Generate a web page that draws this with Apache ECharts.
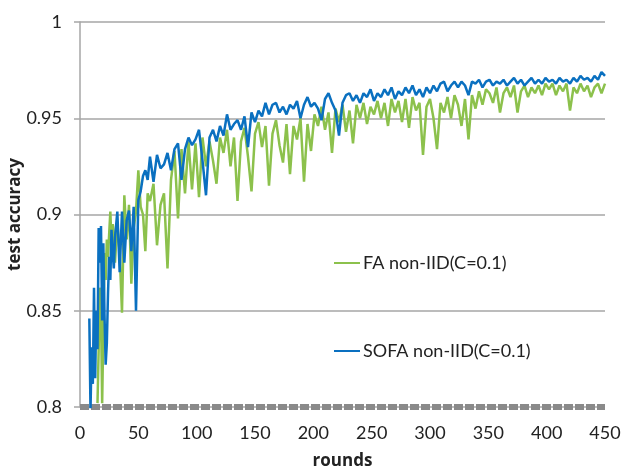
<!DOCTYPE html>
<html>
<head>
<meta charset="utf-8">
<script src="https://cdn.jsdelivr.net/npm/echarts@6/dist/echarts.min.js"></script>
<style>
  html, body { margin: 0; padding: 0; background: #fff; }
  #chart { width: 625px; height: 468px; }
</style>
</head>
<body>
<div id="chart"></div>
<script>
// rounds
var rounds = [
	8, 9, 10, 11, 12, 13, 14, 15, 16, 17, 18, 19, 20, 21, 22, 23, 24, 25, 26, 27, 28, 29, 30,
	32, 34, 36, 38, 40, 42, 44, 46, 48, 50, 52, 54, 56, 58, 60,
	63, 66, 69, 72, 75, 78, 81, 84, 87, 90,
	93, 96, 99, 102, 105, 108, 111, 114, 117, 120,
	123, 126, 129, 132, 135, 138, 141, 144, 147, 150,
	153, 156, 159, 162, 165, 168, 171, 174, 177, 180,
	183, 186, 189, 192, 195, 198, 201, 204, 207, 210,
	213, 216, 219, 222, 225, 228, 231, 234, 237, 240,
	243, 246, 249, 252, 255, 258, 261, 264, 267, 270,
	273, 276, 279, 282, 285, 288, 291, 294, 297, 300,
	303, 306, 309, 312, 315, 318, 321, 324, 327, 330,
	333, 336, 339, 342, 345, 348, 351, 354, 357, 360,
	363, 366, 369, 372, 375, 378, 381, 384, 387, 390,
	393, 396, 399, 402, 405, 408, 411, 414, 417, 420,
	423, 426, 429, 432, 435, 438, 441, 444, 447, 450
];

// FA non-IID(C=0.1)
var faValues = [
	null, null, null, null, null, null, null, 0.802, 0.830, 0.862, 0.849, 0.802, 0.840, 0.880, 0.866, 0.887, 0.878, 0.890, 0.9015, 0.885, 0.895, 0.890, 0.875,
	0.896, 0.880, 0.849, 0.910, 0.887, 0.905, 0.864, 0.893, 0.9015, 0.923, 0.904, 0.900, 0.881, 0.911, 0.907,
	0.916, 0.884, 0.905, 0.911, 0.872, 0.918, 0.933, 0.898, 0.934, 0.911,
	0.938, 0.913, 0.937, 0.909, 0.940, 0.925, 0.938, 0.928, 0.916, 0.940,
	0.932, 0.944, 0.925, 0.940, 0.907, 0.938, 0.945, 0.930, 0.912, 0.942,
	0.948, 0.935, 0.946, 0.915, 0.942, 0.949, 0.936, 0.927, 0.947, 0.921,
	0.946, 0.939, 0.950, 0.917, 0.947, 0.933, 0.952, 0.946, 0.956, 0.944,
	0.953, 0.932, 0.955, 0.948, 0.957, 0.943, 0.954, 0.937, 0.957, 0.950,
	0.958, 0.947, 0.956, 0.952, 0.959, 0.950, 0.958, 0.946, 0.960, 0.953,
	0.959, 0.948, 0.960, 0.945, 0.961, 0.954, 0.958, 0.931, 0.956, 0.960,
	0.950, 0.934, 0.958, 0.953, 0.961, 0.950, 0.962, 0.957, 0.946, 0.960,
	0.939, 0.962, 0.955, 0.964, 0.957, 0.965, 0.963, 0.958, 0.966, 0.953,
	0.963, 0.966, 0.961, 0.967, 0.953, 0.964, 0.967, 0.961, 0.966, 0.963,
	0.967, 0.962, 0.968, 0.965, 0.968, 0.962, 0.967, 0.964, 0.968, 0.954,
	0.966, 0.963, 0.968, 0.964, 0.967, 0.961, 0.966, 0.968, 0.963, 0.968
];

// SOFA non-IID(C=0.1)
var sofaValues = [
	0.846, 0.798, 0.831, 0.812, 0.862, 0.815, 0.850, 0.830, 0.893, 0.875, 0.894, 0.845, 0.885, 0.848, 0.822, 0.833, 0.859, 0.878, 0.866, 0.892, 0.880, 0.872, 0.888,
	0.9015, 0.870, 0.9015, 0.875, 0.897, 0.902, 0.881, 0.904, 0.850, 0.9075, 0.912, 0.920, 0.923, 0.918, 0.930,
	0.917, 0.931, 0.924, 0.926, 0.932, 0.923, 0.934, 0.937, 0.918, 0.934,
	0.940, 0.936, 0.939, 0.944, 0.928, 0.910, 0.940, 0.944, 0.938, 0.946,
	0.941, 0.952, 0.944, 0.947, 0.949, 0.944, 0.951, 0.935, 0.953, 0.948,
	0.954, 0.951, 0.958, 0.952, 0.957, 0.958, 0.953, 0.956, 0.952, 0.957,
	0.955, 0.959, 0.950, 0.957, 0.961, 0.956, 0.958, 0.955, 0.949, 0.960,
	0.963, 0.958, 0.954, 0.941, 0.958, 0.962, 0.963, 0.959, 0.962, 0.958,
	0.963, 0.961, 0.965, 0.959, 0.963, 0.961, 0.965, 0.962, 0.966, 0.960,
	0.964, 0.962, 0.966, 0.963, 0.967, 0.962, 0.965, 0.961, 0.966, 0.963,
	0.967, 0.964, 0.968, 0.969, 0.964, 0.967, 0.969, 0.966, 0.969, 0.967,
	0.962, 0.969, 0.968, 0.970, 0.966, 0.969, 0.970, 0.967, 0.969, 0.968,
	0.970, 0.967, 0.969, 0.971, 0.968, 0.970, 0.967, 0.969, 0.971, 0.968,
	0.970, 0.968, 0.971, 0.969, 0.970, 0.968, 0.971, 0.969, 0.970, 0.968,
	0.971, 0.969, 0.972, 0.970, 0.971, 0.969, 0.972, 0.970, 0.974, 0.972
];

var seriesNames = ['FA non-IID(C=0.1)', 'SOFA non-IID(C=0.1)'];
var xTicks = [0, 450, 50];   // min, max, interval
var yTicks = [0.8, 1, 0.05];

function toPoints(values) {
	var pts = [];
	for (var i = 0; i < rounds.length; i++) {
		if (values[i] !== null) pts.push([rounds[i], values[i]]);
	}
	return pts;
}

var myChart = echarts.init(document.getElementById('chart'));

var labelFont = 'Lato, "Open Sans", sans-serif';

var option = {
	animation: false,
	color: ['#8CC14C', '#0A70C0'],
	grid: {
		left: 80,
		right: 20,
		top: 22,
		bottom: 61,
		containLabel: false,
		outerBoundsMode: 'none'
	},
	legend: {
		orient: 'vertical',
		left: 329,
		top: 249,
		icon: 'rect',
		itemWidth: 26,
		itemHeight: 2,
		itemGap: 70,
		textStyle: {
			fontFamily: labelFont,
			fontSize: 18,
			color: '#222',
			padding: [0, 0, 0, -2]
		},
		data: seriesNames
	},
	xAxis: {
		type: 'value',
		min: xTicks[0],
		max: xTicks[1],
		interval: xTicks[2],
		name: 'rounds',
		nameLocation: 'middle',
		nameGap: 46,
		nameTextStyle: {
			fontFamily: '"Open Sans", sans-serif',
			fontWeight: 'bold',
			fontSize: 17,
			color: '#222'
		},
		axisLine: {
			show: true,
			lineStyle: {
				color: '#8a8a8a',
				width: 6,
				type: [9, 2],
				cap: 'butt'
			}
		},
		axisTick: { show: false },
		axisLabel: {
			fontFamily: labelFont,
			fontSize: 18,
			color: '#222',
			margin: 17
		},
		splitLine: { show: false }
	},
	yAxis: {
		type: 'value',
		min: yTicks[0],
		max: yTicks[1],
		interval: yTicks[2],
		name: 'test accuracy',
		nameLocation: 'middle',
		nameGap: 56,
		nameMoveOverlap: false,
		nameTextStyle: {
			fontFamily: '"Open Sans", sans-serif',
			fontWeight: 'bold',
			fontSize: 17,
			color: '#222'
		},
		axisLine: {
			show: true,
			lineStyle: { color: '#a6a6a6', width: 1.5 }
		},
		axisTick: {
			show: true,
			length: 6,
			lineStyle: { color: '#a6a6a6', width: 1.5 }
		},
		axisLabel: {
			fontFamily: labelFont,
			fontSize: 18,
			color: '#222',
			margin: 18
		},
		splitLine: {
			show: true,
			lineStyle: { color: '#a6a6a6', width: 1.5 }
		}
	},
	series: [
		{
			name: seriesNames[0],
			type: 'line',
			symbol: 'none',
			lineStyle: { width: 2.5 },
			data: toPoints(faValues)
		},
		{
			name: seriesNames[1],
			type: 'line',
			symbol: 'none',
			lineStyle: { width: 2.5 },
			data: toPoints(sofaValues)
		}
	]
};
myChart.setOption(option);
</script>
</body>
</html>
